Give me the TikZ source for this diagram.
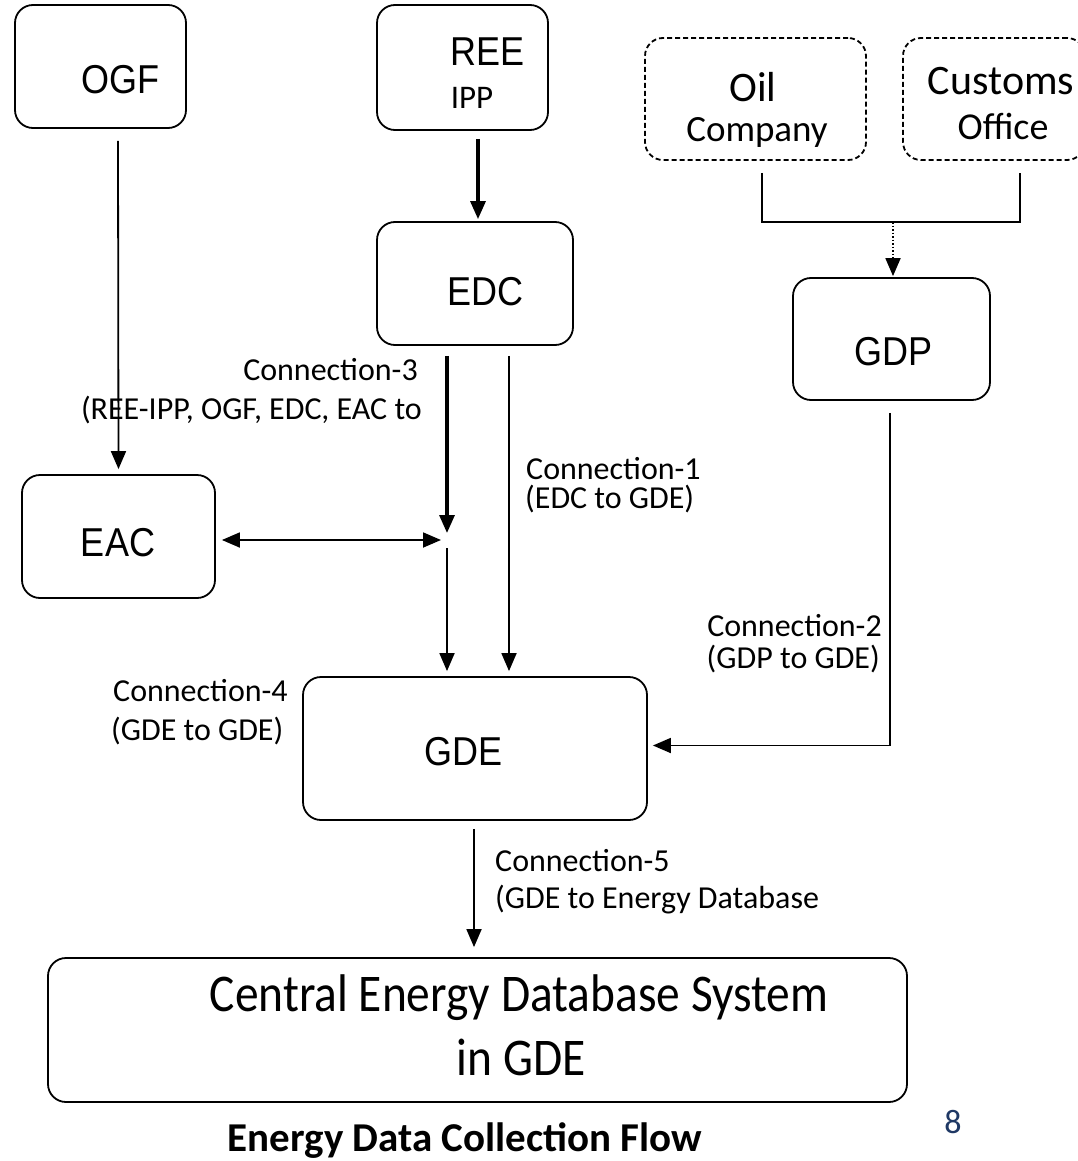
\documentclass[tikz,border=0pt]{standalone}
\usepackage{fontspec}
\setmainfont{Carlito}
\newfontfamily\arialf{Liberation Sans}
\usetikzlibrary{arrows.meta,calc}
\definecolor{pgnum}{HTML}{1F3864}
\begin{document}
\begin{tikzpicture}[x=1pt,y=-1pt,
 box/.style={draw, line width=1.8pt, rounded corners=18pt, inner sep=0pt},
 dbox/.style={box, dash pattern=on 5pt off 3pt},
 conn/.style={line width=1.8pt, -{Triangle[length=18pt,width=15pt]}},
 thickconn/.style={conn, line width=3.2pt},
 big/.style={font=\arialf\fontsize{36}{40}\selectfont, inner sep=0pt, yscale=1.12},
 cal/.style={font=\fontsize{#1}{#1}\selectfont, inner sep=0pt},
 lbl/.style={font=\fontsize{32}{34}\selectfont, inner sep=0pt},
]
\useasboundingbox (0,0) rectangle (1078,1161);
% boxes
\node[box, minimum width=171pt, minimum height=123pt] (ogf) at (100.5,66.5) {};
\node[box, minimum width=171pt, minimum height=125pt] (ree) at (462.5,67.5) {};
\node[dbox, minimum width=221pt, minimum height=122pt] (oil) at (755.5,99) {};
\node[dbox, minimum width=182pt, minimum height=122pt] (cust) at (994,99) {};
\node[box, minimum width=196pt, minimum height=123pt] (edc) at (475,283.5) {};
\node[box, minimum width=197pt, minimum height=122pt] (gdp) at (891.5,339) {};
\node[box, minimum width=193pt, minimum height=123pt] (eac) at (118.5,536.5) {};
\node[box, minimum width=344pt, minimum height=143pt] (gde) at (475,748.5) {};
\node[box, minimum width=859pt, minimum height=144pt] (ced) at (477.5,1030) {};
% box texts
\node[big] (tOGF) at (120,80) {OGF};
\node[big] (tREE) at (488,52) {REE};
\node[cal=33] (tIPP) at (472,98) {IPP};
\node[cal=42] (tOil) at (753,87) {Oil};
\node[cal=37] (tCompany) at (757,132) {Company};
\node[cal=42] (tCustoms) at (1001,81) {Customs};
\node[cal=38] (tOffice) at (1003,126) {Office};
\node[big] (tEDC) at (485,292) {EDC};
\node[big] (tGDP) at (893,352) {GDP};
\node[big] (tEAC) at (118,543) {EAC};
\node[big] (tGDE) at (463,752) {GDE};
\node[cal=53, xscale=0.895] (tCED1) at (519,998) {Central Energy Database System};
\node[cal=53, xscale=0.895] (tCED2) at (521,1057) {in GDE};
\node[font=\bfseries\fontsize{41}{41}\selectfont, inner sep=0pt, anchor=base] (title) at (465,1151) {Energy Data Collection Flow};
\node[cal=34, text=pgnum] (pnum) at (953,1122) {8};
% labels
\node[lbl, anchor=base east] (l3a) at (418,380) {Connection-3};
\node[lbl, anchor=base east] (l3b) at (422,419) {(REE-IPP, OGF, EDC, EAC to};
\node[lbl, anchor=base west] (l1a) at (526,479) {Connection-1};
\node[lbl, anchor=base west] (l1b) at (525,508) {(EDC to GDE)};
\node[lbl, anchor=base east] (l2a) at (882,636) {Connection-2};
\node[lbl, anchor=base east] (l2b) at (880,668) {(GDP to GDE)};
\node[lbl, anchor=base west] (l4a) at (113,701) {Connection-4};
\node[lbl, anchor=base west] (l4b) at (111,740) {(GDE to GDE)};
\node[lbl, anchor=base west] (l5a) at (495,871) {Connection-5};
\node[lbl, anchor=base west] (l5b) at (495,908) {(GDE to Energy Database};
% junctions
\coordinate (j) at (447,540);
\coordinate (m) at (893,222);
% connectors
\draw[conn] ($(ogf.south)+(17.5,12)$) -- ($(eac.north)+(0,-5)$);
\draw[thickconn] ($(ree.south)+(15.5,8)$) -- ($(edc.north)+(3,-2)$);
\draw[thickconn] ($(edc.south)+(-28,10)$) -- ($(j)+(0,-7)$);
\draw[conn] ($(j)+(0,8)$) -- ($(gde.north -| j)+(0,-5)$);
\draw[conn] ($(edc.south)+(34,10)$) -- ($(gde.north)+(34,-5)$);
\draw[line width=1.8pt, {Triangle[length=18pt,width=15pt]}-{Triangle[length=18pt,width=15pt]}] ($(eac.east |- j)+(6,0)$) -- ($(j)+(-6,0)$);
\draw[conn] ($(gdp.south)+(-1.5,12)$) |- ($(gde.east)+(5,-3)$);
\draw[line width=1.8pt] ($(oil.south)+(6.5,12)$) |- (m) -| ($(cust.south)+(26,12)$);
\draw[conn, dash pattern=on 1.5pt off 2pt] (m) -- ($(gdp.north)+(1.5,-1)$);
\draw[conn] ($(gde.south)+(-1,8)$) -- ($(ced.north -| 474,0)+(0,-10)$);
\end{tikzpicture}
\end{document}
